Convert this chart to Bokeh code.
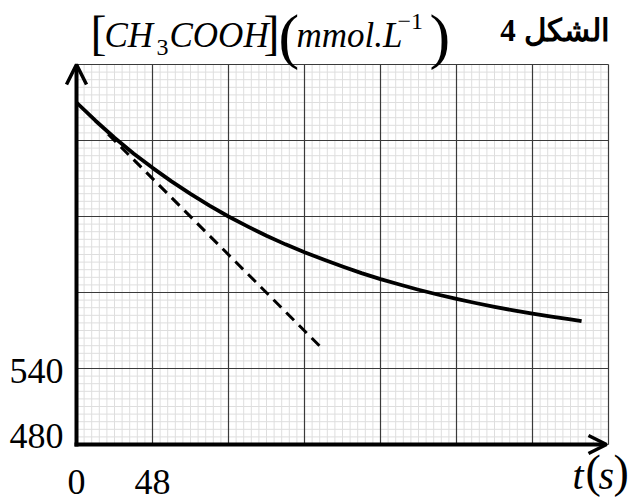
from bokeh.plotting import figure
from bokeh.models import Range1d, Arrow, OpenHead
from bokeh.core.properties import value
from bokeh.embed import file_html
from bokeh.resources import INLINE

# ---------------- data ----------------
t_curve = [0, 12, 24, 36, 48, 60, 72, 84, 96, 108, 120, 132, 144, 156, 168, 180,
           192, 204, 216, 228, 240, 252, 264, 276, 288, 300, 312, 319]
c_curve = [750, 735.6, 722.2, 709.8, 698.4, 687.7, 677.8, 668.6, 660.0, 652.2, 644.8,
           638.0, 631.8, 626.0, 620.5, 615.3, 610.6, 606.3, 602.2, 598.4, 594.9, 591.7,
           588.7, 585.9, 583.3, 580.9, 578.7, 577.4]

t_tangent = [20, 155]
c_tangent = [725, 556]

x_major = [0, 48, 96, 144, 192, 240, 288, 336]
y_major = [480, 540, 600, 660, 720, 780]
x_minor_step = 4.8
y_minor_step = 6

x_tick_labels = {0: "0", 48: "48"}
y_tick_labels = {480: "480", 540: "540"}

# ---------------- pixel -> data helpers (layout only) ----------------
def tx(px):
    return (px - 76) * 48 / 76

def cy(py):
    return 480 + (444 - py) * 60 / 76

W, H = 630, 500
p = figure(width=W, height=H, output_backend="svg", toolbar_location=None,
           x_range=Range1d(tx(0), tx(W)), y_range=Range1d(cy(H), cy(0)),
           x_axis_location=None, y_axis_location=None, min_border=0)
p.xgrid.visible = False
p.ygrid.visible = False
p.outline_line_color = None
p.background_fill_color = "white"

x0, x1 = x_major[0], x_major[-1]
y0, y1 = y_major[0], y_major[-1]

# minor grid
nxm = int(round((x1 - x0) / x_minor_step))
nym = int(round((y1 - y0) / y_minor_step))
xm = [x0 + i * x_minor_step for i in range(nxm + 1)]
ym = [y0 + i * y_minor_step for i in range(nym + 1)]
p.segment(x0=xm, y0=[y0] * len(xm), x1=xm, y1=[y1] * len(xm), line_color="#dedede", line_width=1)
p.segment(x0=[x0] * len(ym), y0=ym, x1=[x1] * len(ym), y1=ym, line_color="#dedede", line_width=1)

# major grid
p.segment(x0=x_major, y0=[y0] * len(x_major), x1=x_major, y1=[y1] * len(x_major), line_color="#3a3a3a", line_width=1.2)
p.segment(x0=[x0] * len(y_major), y0=y_major, x1=[x1] * len(y_major), y1=y_major, line_color="#3a3a3a", line_width=1.2)

# curve and tangent
p.line(t_curve, c_curve, line_color="black", line_width=3.8, line_join="round")
p.line(t_tangent, c_tangent, line_color="black", line_width=3, line_dash="11 7")

# axes as arrows
p.add_layout(Arrow(end=OpenHead(size=20, line_width=3.5, line_color="black"),
                   x_start=0, y_start=cy(446), x_end=0, y_end=cy(64),
                   line_width=4, line_color="black"))
p.add_layout(Arrow(end=OpenHead(size=18, line_width=3.5, line_color="black"),
                   x_start=tx(74), y_start=480, x_end=tx(606), y_end=480,
                   line_width=4, line_color="black"))

SERIF = "Liberation Serif"

def txt(x, y, s, size, style="normal", align="left", baseline="middle", font=SERIF):
    p.text(x=[x], y=[y], text=[s], text_font=value(font), text_font_size=value(size),
           text_font_style=style, text_align=align, text_baseline=baseline, text_color="black")

# tick labels
txt(tx(63), cy(435), y_tick_labels[480], "36px", align="right")
txt(tx(63), cy(370), y_tick_labels[540], "36px", align="right")
for v, s in x_tick_labels.items():
    txt(v, cy(481), s, "36px", align="center")

# x axis label t(s)
txt(tx(572), cy(475), "t", "40px", style="italic")
txt(tx(585), cy(471), "(", "46px")
txt(tx(598), cy(475), "s", "40px", style="italic")
txt(tx(613), cy(471), ")", "46px")

# y axis title [CH3COOH](mmol.L-1)
txt(tx(90), cy(32), "[", "48px")
txt(tx(104), cy(35), "CH", "35px", style="italic")
txt(tx(156), cy(47), "3", "24px")
txt(tx(169), cy(35), "COOH", "35px", style="italic")
txt(tx(263), cy(32), "]", "48px")
txt(tx(278), cy(35), "(", "62px")
txt(tx(296), cy(35), "mmol.L", "35px", style="italic")
txt(tx(397), cy(21), "\u22121", "24px")
txt(tx(429), cy(35), ")", "62px")

# figure caption
txt(tx(609), cy(30), "الشكل 4", "31px", style="bold", align="right")

open("out.html", "w").write(file_html(p, INLINE))
